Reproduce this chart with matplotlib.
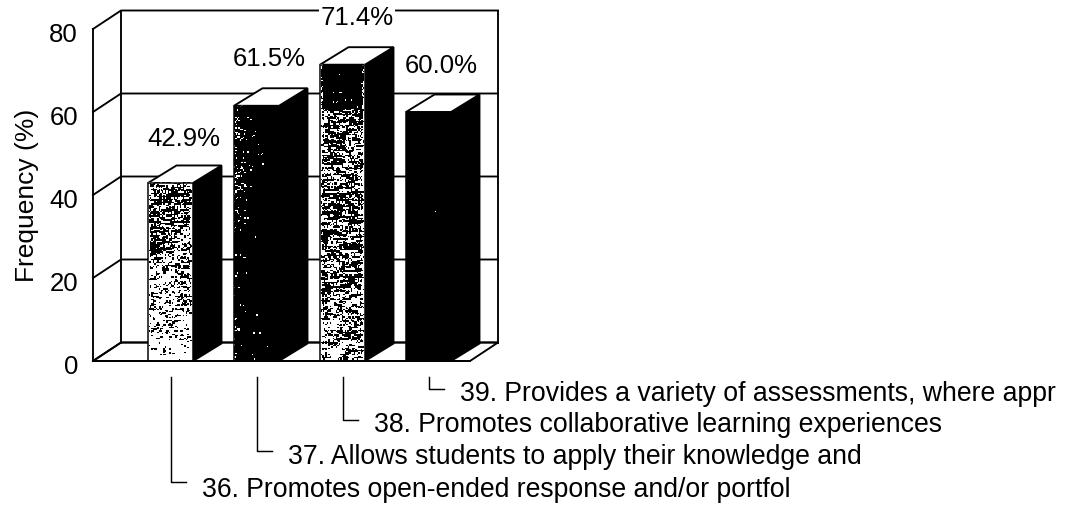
import numpy as np
import matplotlib
matplotlib.use("Agg")
import matplotlib.pyplot as plt
from matplotlib.patches import Polygon
from matplotlib.transforms import offset_copy

# Survey items and their reported frequencies
items = [
    "36. Promotes open-ended response and/or portfol",
    "37. Allows students to apply their knowledge and",
    "38. Promotes collaborative learning experiences",
    "39. Provides a variety of assessments, where appr",
]
frequency = [42.9, 61.5, 71.4, 60.0]
value_labels = ["42.9%", "61.5%", "71.4%", "60.0%"]
y_ticks = [0, 20, 40, 60, 80]

# Ink density of each bar's face, listed from foot to top
face_heights = [
    [0.0, 0.1, 0.22, 0.42, 0.6, 0.95, 1.0],
    [0.0, 0.12, 0.3, 0.6, 0.9, 1.0],
    [0.0, 0.25, 0.6, 0.82, 0.86, 1.0],
    [0.0, 1.0],
]
face_density = [
    [0.03, 0.06, 0.28, 0.32, 0.60, 0.58, 0.35],
    [0.94, 0.97, 0.97, 0.96, 0.95, 0.93],
    [0.35, 0.55, 0.58, 0.60, 0.985, 0.99],
    [1.0, 1.0],
]
# Light faces keep a pale margin; the dark one has its specks toward the left
face_margin = [True, False, True, False]

plt.rcParams["font.family"] = ["Liberation Sans", "DejaVu Sans"]
W, H = 1069, 506
fig = plt.figure(figsize=(W / 100, H / 100), dpi=100, facecolor="white")

# Axes occupy the front plane of the 3-D box
left, right, bottom, top = 93, 470, 362, 30
ax = fig.add_axes([left / W, 1 - bottom / H, (right - left) / W, (bottom - top) / H])
step = 86.0
first_center = 170.5
x_lo = (left - first_center) / step
x_hi = (right - first_center) / step
ax.set_xlim(x_lo, x_hi)
ax.set_ylim(0, 80)
ax.axis("off")

px_y = (bottom - top) / 80
half = 22.5 / step
dx, dy = 28.5 / step, 17.5 / px_y
wall_dx, wall_dy = 28 / step, 18.5 / px_y
LW = 1.35
line = dict(color="black", lw=LW, clip_on=False, solid_capstyle="projecting")

# Box: floor, side wall, back wall and gridlines
ax.add_patch(Polygon([(x_lo, 0), (x_lo + wall_dx, wall_dy), (x_hi + wall_dx, wall_dy), (x_hi, 0)],
                     closed=True, fc="white", ec="black", lw=LW, clip_on=False, zorder=1))
for t in y_ticks:
    ax.plot([x_lo, x_lo + wall_dx, x_hi + wall_dx + 0.0], [t, t + wall_dy, t + wall_dy], zorder=1, **line)
ax.plot([x_lo, x_lo], [0, 80], zorder=1, **line)
ax.plot([x_lo + wall_dx] * 2, [wall_dy, 80 + wall_dy], zorder=1, **line)
ax.plot([x_hi + wall_dx] * 2, [wall_dy, 80 + wall_dy], zorder=1, **line)


def hash_noise(cx, cy, a, b):
    return np.modf(np.abs(np.sin(cx * a + cy * b) * 43758.5453))[0]


def face_texture(w, h, heights, density, phase, margin):
    """Streaky halftone from a sine hash; ink covers the share given by density."""
    yy, xx = np.mgrid[0:h, 0:w]
    # every row band is slid sideways so the streaks do not line up in columns
    row = np.floor((yy + phase) / 2.0)
    slide = hash_noise(row, row, 3.71, 9.13) * 12
    fine = hash_noise(np.floor((xx + phase) / 1.5), np.floor((yy + phase) / 1.5), 12.9898, 78.233)
    streak = hash_noise(np.floor((xx + slide + phase) / 9.0), row, 4.137, 37.719)
    patch = hash_noise(np.floor((xx + phase) / 16.0), np.floor((yy + phase) / 7.0), 7.331, 19.173)
    noise = 0.45 * fine + 0.40 * streak + 0.15 * patch
    # rank transform makes the threshold equal the covered fraction
    ranks = np.empty(noise.size)
    ranks[np.argsort(noise, axis=None)] = np.linspace(0, 1, noise.size)
    ranks = ranks.reshape(noise.shape)
    frac = 1 - (yy + 0.5) / h
    level = np.interp(frac, heights, density)
    u = (xx + 0.5) / w
    if margin:
        edge = np.minimum(xx, w - 1 - xx) / 3.0
        level = level * np.clip(edge, 0, 1)
    elif level.min() < 1:
        level = 1 - (1 - level) * 3.5 * (1 - u) ** 4
    return (ranks >= level).astype(float)


for i, v in enumerate(frequency):
    x0, x1 = i - half, i + half
    z = 3 + i
    ax.add_patch(Polygon([(x1, 0), (x1 + dx, dy), (x1 + dx, v + dy), (x1, v)],
                         closed=True, fc="black", ec="black", lw=LW, clip_on=False, zorder=z))
    ax.add_patch(Polygon([(x0, v), (x0 + dx, v + dy), (x1 + dx, v + dy), (x1, v)],
                         closed=True, fc="white", ec="black", lw=LW, clip_on=False, zorder=z))
    w_px = int(round((x1 - x0) * step))
    h_px = int(round(v * px_y))
    tex = face_texture(w_px, h_px, face_heights[i], face_density[i], 11 * i + 3, face_margin[i])
    ax.imshow(tex, extent=(x0, x1, 0, v), cmap="gray", vmin=0, vmax=1, aspect="auto",
              interpolation="nearest", origin="upper", zorder=z, clip_on=False)
    ax.add_patch(Polygon([(x0, 0), (x0, v), (x1, v), (x1, 0)], closed=True, fc="none",
                         ec="black", lw=LW * 0.8, clip_on=False, zorder=z))
ax.set_xlim(x_lo, x_hi)
ax.set_ylim(0, 80)

# Front edge of the floor sits over the bar feet
ax.plot([x_lo, x_hi], [0, 0], zorder=9, **line)

FS = 18.5
# Value labels, anchored to each bar's top
label_offsets = [(13, 45), (13, 48), (14.5, 48), (13, 47)]
for i, (v, s) in enumerate(zip(frequency, value_labels)):
    off = label_offsets[i]
    ax.annotate(s, xy=(i, v), xytext=off, textcoords="offset pixels", ha="center", va="center",
                fontsize=FS, zorder=12, annotation_clip=False,
                bbox=dict(fc="white", ec="none", pad=1.0) if i == 2 else None)

# Tick labels and axis title
for t in y_ticks:
    ax.annotate(str(t), xy=(x_lo, t), xytext=(-15, -5.5), textcoords="offset pixels",
                ha="right", va="center", fontsize=FS, annotation_clip=False)
fig.text(27 / W, 1 - 195 / H, "Frequency (%)", rotation=90, ha="center", va="center", fontsize=19)

# Stepped leaders from each bar's foot to its item text
drop_px = [483, 452, 421, 390]
text_y_px = [490, 457, 425, 394]
for i, item in enumerate(items):
    foot = 16
    trans = offset_copy(ax.transData, fig=fig, x=0, y=-foot, units="dots")
    drop = drop_px[i] - bottom - foot
    seg_x = [i, i, i + 15 / step]
    seg_y = [0, -drop / px_y, -drop / px_y]
    ax.plot(seg_x, seg_y, transform=trans, color="black", lw=1.05, clip_on=False, zorder=2)
    ax.annotate(item, xy=(i, 0), xytext=(31, -(text_y_px[i] - bottom)), textcoords="offset pixels",
                ha="left", va="center", fontsize=19.2, annotation_clip=False)

fig.savefig("out.png", dpi=100, facecolor="white")
